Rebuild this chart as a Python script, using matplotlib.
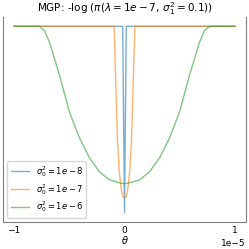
import matplotlib
matplotlib.use("Agg")
import matplotlib.pyplot as plt

#
# Valores (theta en unidades de 1e-5)
#
top = 15.9

theta_green = [-1.0, -0.77, -0.724, -0.679, -0.588, -0.498, -0.407, -0.317,
               -0.226, -0.136, -0.045, 0.0, 0.045, 0.136, 0.226, 0.317,
               0.407, 0.498, 0.588, 0.679, 0.724, 0.77, 1.0]
value_green = [top, top, 15.34, 13.83, 9.53, 4.75, 1.39, -1.19,
               -3.0, -4.04, -4.42, -4.55, -4.42, -4.04, -3.0, -1.19,
               1.39, 4.75, 9.53, 13.83, 15.34, top, top]

theta_orange = [-1.0, -0.094, -0.079, -0.063, -0.047, -0.031, -0.016, 0.0,
                0.016, 0.031, 0.047, 0.063, 0.079, 0.094, 1.0]
value_orange = [top, top, 8.66, 0.91, -2.96, -5.07, -6.23, -6.36,
                -6.23, -5.07, -2.96, 0.91, 8.66, top, top]

theta_blue = [-1.0, -0.016, 0.0, 0.016, 1.0]
value_blue = [top, top, -8.3, top, top]

labels = [r"$\sigma_0^2 = 1e-8$", r"$\sigma_0^2 = 1e-7$", r"$\sigma_0^2 = 1e-6$"]

fig = plt.figure(figsize=(2.49, 2.49), dpi=100)
ax = fig.add_axes([3 / 249, 1 - 222 / 249, 243 / 249, (222 - 17) / 249])

ax.plot([t * 1e-5 for t in theta_blue], value_blue, color="tab:blue", alpha=0.6, lw=1, label=labels[0])
ax.plot([t * 1e-5 for t in theta_orange], value_orange, color="tab:orange", alpha=0.6, lw=1, label=labels[1])
ax.plot([t * 1e-5 for t in theta_green], value_green, color="tab:green", alpha=0.6, lw=1, label=labels[2])

ax.set_title(r"MGP: -log $(\pi(\lambda = 1e-7,\, \sigma_1^2 = 0.1))$", fontsize=7.5, pad=2)
ax.set_xlabel(r"$\theta$", fontsize=7, labelpad=-1)
ax.set_xticks([-1e-5, 0, 1e-5])
ax.set_yticks([])
ax.tick_params(axis="x", labelsize=6.5, length=0, pad=3)
ax.xaxis.get_offset_text().set_fontsize(6.5)

for side in ["left", "right", "bottom"]:
    ax.spines[side].set_color("gray")
    ax.spines[side].set_linewidth(0.8)
ax.spines["top"].set_visible(False)

ax.legend(loc="lower left", fontsize=6, framealpha=0.8, borderpad=0.4,
          labelspacing=0.35, handlelength=2.2, borderaxespad=0.5)

plt.savefig("out.png", dpi=100)
